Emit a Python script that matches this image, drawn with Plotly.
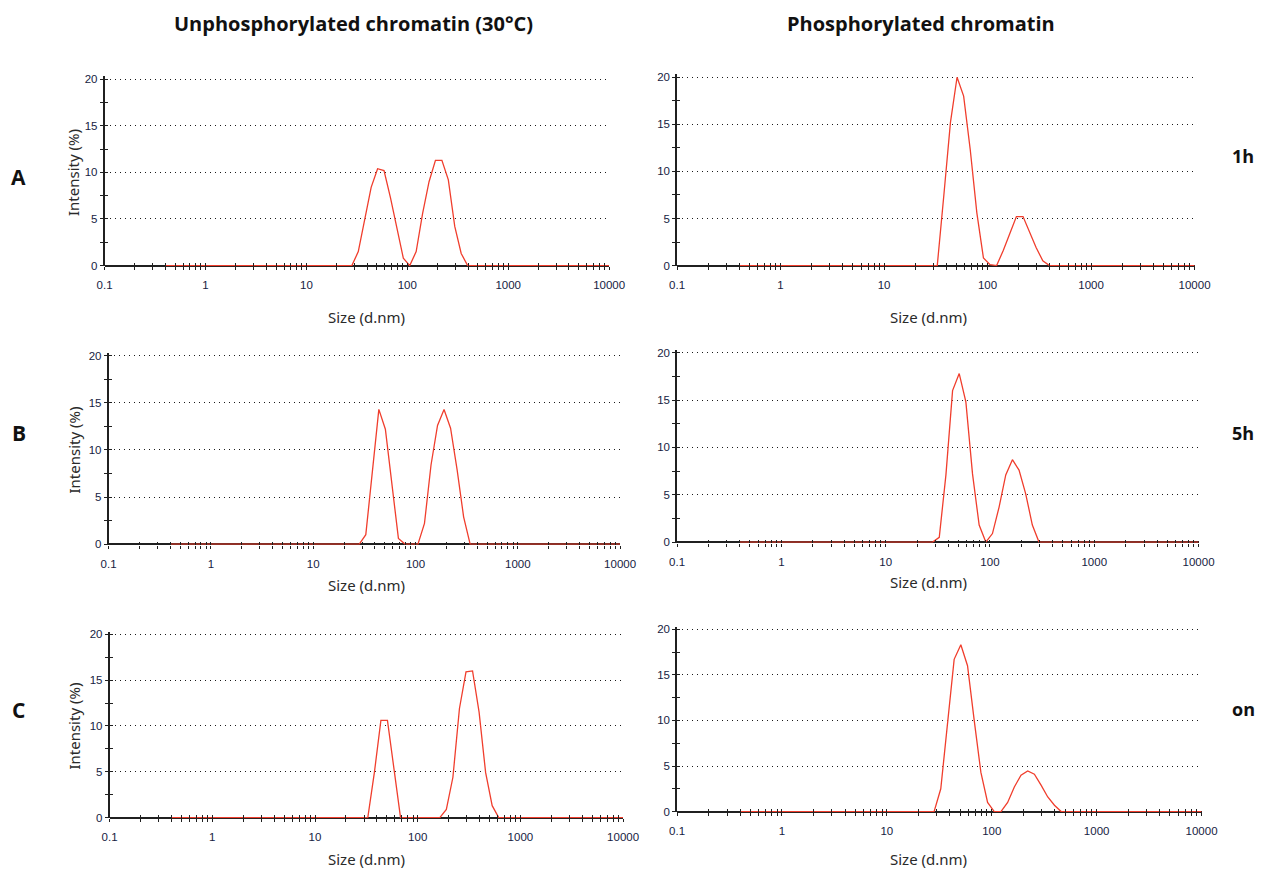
import plotly.graph_objects as go

# Zetasizer size classes (d.nm) spanning the measured range; intensities below are per class
SIZE_NM = [0.4, 24.36, 28.21, 32.67, 37.84, 43.82, 50.75, 58.77, 68.06, 78.82, 91.28,
           105.7, 122.4, 141.8, 164.2, 190.1, 220.2, 255.0, 295.3, 342.0, 396.1,
           458.7, 531.2, 615.1, 712.4, 10000]

# Intensity (%) distributions, unphosphorylated chromatin (30°C)
UNPHOS_1H = [0, 0, 0, 1.5, 4.9, 8.4, 10.4, 10.2, 7.3, 4.2, 0.8,
             0, 1.5, 5.6, 9.0, 11.3, 11.3, 9.2, 4.2, 1.3, 0,
             0, 0, 0, 0, 0]
UNPHOS_5H = [0, 0, 0, 1.0, 7.5, 14.3, 12.2, 6.7, 0.6, 0, 0,
             0, 2.2, 8.4, 12.6, 14.3, 12.3, 7.9, 2.9, 0, 0,
             0, 0, 0, 0, 0]
UNPHOS_ON = [0, 0, 0, 0, 4.9, 10.6, 10.6, 5.0, 0, 0, 0,
             0, 0, 0, 0, 0.9, 4.4, 11.9, 15.9, 16.0, 11.5,
             4.9, 1.3, 0, 0, 0]

# Intensity (%) distributions, phosphorylated chromatin
PHOS_1H = [0, 0, 0, 0, 7.5, 15.2, 20.0, 18.0, 12.3, 5.6, 0.8,
           0.1, 0, 1.6, 3.4, 5.2, 5.2, 3.6, 1.9, 0.5, 0,
           0, 0, 0, 0, 0]
PHOS_5H = [0, 0, 0, 0.5, 7.1, 16.0, 17.8, 14.8, 7.2, 1.8, 0,
           0.9, 3.7, 7.1, 8.7, 7.6, 5.1, 1.8, 0, 0, 0,
           0, 0, 0, 0, 0]
PHOS_ON = [0, 0, 0, 2.5, 10.0, 16.7, 18.3, 16.0, 10.0, 4.3, 1.0,
           0, 0, 1.0, 2.7, 4.0, 4.45, 4.1, 2.9, 1.6, 0.7,
           0, 0, 0, 0, 0]

COLUMN_TITLES = ["Unphosphorylated chromatin (30°C)", "Phosphorylated chromatin"]
ROW_LETTERS = ["A", "B", "C"]
TIME_LABELS = ["1h", "5h", "on"]
X_TICK_LABELS = ["0.1", "1", "10", "100", "1000", "10000"]
Y_TICK_LABELS = ["0", "5", "10", "15", "20"]

SERIES = [[UNPHOS_1H, PHOS_1H], [UNPHOS_5H, PHOS_5H], [UNPHOS_ON, PHOS_ON]]

W, H = 1266, 871
# pixel boxes of each plot on the page: (x at 0.1, x at 10000, y at 20 %, y at 0 %)
BOXES = [[(103, 608, 80, 266), (676, 1194, 78, 266)],
         [(107, 619, 356, 544), (676, 1198, 353, 542)],
         [(108, 622, 634, 817), (676, 1201, 629, 811)]]

# page-to-layout calibration of the viewer (measured scale and offset of the drawn page)
SX, OX = 0.982, 6.3
SY, OY = 0.989, 3.9


def fx(px):
    return ((px - OX) / SX) / W


def fy(py):
    return 1 - ((py - OY) / SY) / H


Y_LO, Y_HI = -0.08, 20.3
RED = "rgb(240,62,45)"
AXIS = "#202020"
TICK_FONT = dict(family="Liberation Sans, Arial, sans-serif", size=11.5, color="#161c42")
TITLE_FONT = dict(family="Noto Sans, Open Sans, sans-serif", size=15, color="#2a2a2a")
BOLD_FONT = dict(family="Open Sans, Lato, sans-serif", size=20, color="#111111")

# log tick positions: every 1..9 multiple of each decade, labels on decades only
x_tickvals = [m * 10.0 ** e for e in range(-1, 4) for m in range(1, 10)] + [10000.0]
x_ticktext = [X_TICK_LABELS[i // 9] if i % 9 == 0 else "" for i in range(len(x_tickvals) - 1)]
x_ticktext.append(X_TICK_LABELS[-1])
y_major = [0, 5, 10, 15, 20]
y_minor = [2.5, 7.5, 12.5, 17.5]

fig = go.Figure()
layout = dict(width=W, height=H, margin=dict(l=0, r=0, t=0, b=0),
              paper_bgcolor="white", plot_bgcolor="rgba(0,0,0,0)",
              showlegend=False, annotations=[])


def note(text, px, py, font, **kw):
    layout["annotations"].append(dict(
        text=text, x=fx(px), y=fy(py), xref="paper", yref="paper", showarrow=False,
        font=font, xanchor="center", yanchor="middle", **kw))


n = 0
for r in range(3):
    for c in range(2):
        n += 1
        k = n + 6  # overlay axes carrying the inward half of each tick
        x0, x1, y20, y0 = BOXES[r][c]
        ppu = (y0 - y20) / 20.0
        dom_x = [fx(x0), fx(x1)]
        dom_y = [fy(y0 - Y_LO * ppu), fy(y20 - (Y_HI - 20) * ppu)]

        fig.add_trace(go.Scatter(x=SIZE_NM, y=SERIES[r][c], mode="lines",
                                 line=dict(color=RED, width=1.3),
                                 xaxis=f"x{n}", yaxis=f"y{n}", hoverinfo="skip"))
        fig.add_trace(go.Scatter(x=[], y=[], mode="lines", xaxis=f"x{k}", yaxis=f"y{k}",
                                 hoverinfo="skip"))

        layout[f"xaxis{n}"] = dict(
            type="log", range=[-1, 4], domain=dom_x, anchor=f"y{n}",
            tickmode="array", tickvals=x_tickvals, ticktext=x_ticktext,
            ticks="outside", ticklen=3, tickwidth=1.2, tickcolor=AXIS,
            ticklabelstandoff=5, tickfont=TICK_FONT,
            showgrid=False, showline=False, zeroline=False, fixedrange=True)
        layout[f"yaxis{n}"] = dict(
            range=[Y_LO, Y_HI], domain=dom_y, anchor=f"x{n}",
            tickmode="array", tickvals=y_major, ticktext=Y_TICK_LABELS,
            ticks="outside", ticklen=3, tickwidth=1.2, tickcolor=AXIS,
            minor=dict(tickmode="array", tickvals=y_minor, ticks="outside",
                       ticklen=3, tickwidth=1.2, tickcolor=AXIS, showgrid=False),
            tickfont=TICK_FONT,
            showgrid=True, gridcolor="#1a1a1a", gridwidth=1, griddash="1px,4px",
            showline=True, linecolor=AXIS, linewidth=1.6,
            zeroline=True, zerolinecolor=AXIS, zerolinewidth=1.6, fixedrange=True)
        layout[f"xaxis{k}"] = dict(
            type="log", range=[-1, 4], overlaying=f"x{n}", anchor=f"y{k}",
            tickmode="array", tickvals=x_tickvals, ticks="inside", ticklen=3,
            tickwidth=1.2, tickcolor=AXIS, showticklabels=False,
            showgrid=False, showline=False, zeroline=False, fixedrange=True)
        layout[f"yaxis{k}"] = dict(
            range=[Y_LO, Y_HI], overlaying=f"y{n}", anchor=f"x{k}",
            tickmode="array", tickvals=y_major + y_minor, ticks="inside", ticklen=3,
            tickwidth=1.2, tickcolor=AXIS, showticklabels=False,
            showgrid=False, showline=False, zeroline=False, fixedrange=True)

        # axis titles
        title_y = {0: 317, 1: 585 if c == 0 else 582, 2: 858}[r]
        note("Size (d.nm)", 365 if c == 0 else 928, title_y, TITLE_FONT)
        if c == 0:
            note("Intensity (%)", 72, (y20 + y0) / 2, TITLE_FONT, textangle=-90)

# column headers
for text, cx in zip(COLUMN_TITLES, [352, 920]):
    note(f"<b>{text}</b>", cx, 24, BOLD_FONT)

# row letters and time points
for letter, ly in zip(ROW_LETTERS, [178, 433, 710]):
    note(f"<b>{letter}</b>", 17, ly, dict(BOLD_FONT, size=21))
for label, ly in zip(TIME_LABELS, [157, 433, 709]):
    note(f"<b>{label}</b>", 1243, ly, dict(BOLD_FONT, size=18))

fig.update_layout(**layout)
fig.write_html("out.html")
